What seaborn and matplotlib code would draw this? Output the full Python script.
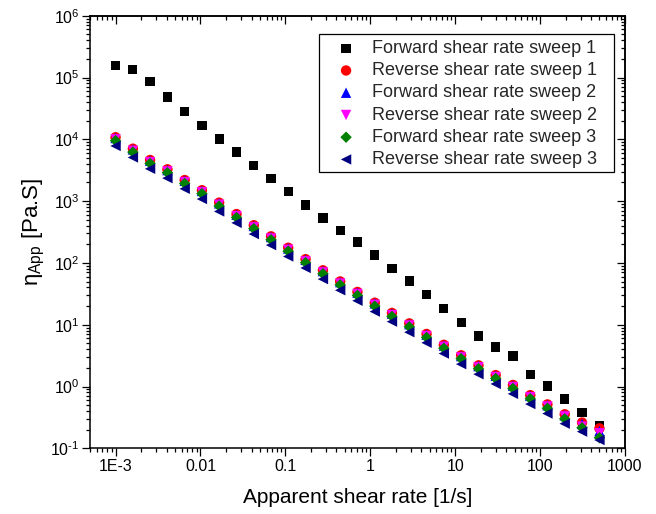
import numpy as np
import pandas as pd
import matplotlib
matplotlib.use("Agg")
import matplotlib.pyplot as plt
import matplotlib.patches as mpatches
import seaborn as sns
from matplotlib.ticker import (LogLocator, FixedLocator, FixedFormatter,
                               NullFormatter, FuncFormatter)

# Apparent shear rate [1/s] (same rates for every sweep)
shear_rate = [0.001, 0.0016, 0.00255, 0.00408, 0.00652, 0.0104, 0.0166, 0.0266,
              0.0425, 0.0678, 0.108, 0.173, 0.277, 0.442, 0.706, 1.13, 1.80,
              2.88, 4.60, 7.35, 11.75, 18.8, 30.0, 47.9, 76.6, 122, 195, 312, 500]

# Apparent viscosity [Pa.S] per sweep
fwd_1 = [155000, 136000, 85500, 48300, 28000, 16900, 10100, 6230, 3790, 2300,
         1420, 865, 533, 332, 218, 134, 82, 51, 30.5, 18.1, 10.8, 6.56, 4.35,
         3.12, 1.55, 1.02, 0.63, 0.377, 0.232]
rev_1 = [10800, 7050, 4620, 3270, 2190, 1500, 944, 617, 407, 269, 176, 115,
         75.9, 50.1, 33.9, 22.7, 15.5, 10.5, 7.08, 4.73, 3.20, 2.20, 1.53, 1.06,
         0.724, 0.513, 0.355, 0.261, 0.210]
fwd_2 = [10500, 6860, 4500, 3180, 2130, 1460, 918, 600, 396, 262, 171, 112,
         73.8, 48.8, 33.0, 22.1, 15.1, 10.2, 6.89, 4.60, 3.11, 2.14, 1.49, 1.03,
         0.704, 0.498, 0.342, 0.248, 0.190]
rev_2 = [9990, 6520, 4270, 3020, 2030, 1390, 873, 571, 376, 249, 163, 106,
         70.2, 46.3, 31.4, 21.0, 14.3, 9.71, 6.55, 4.38, 2.96, 2.04, 1.42, 0.98,
         0.670, 0.475, 0.328, 0.224, 0.175]
fwd_3 = [9500, 6200, 4070, 2880, 1930, 1320, 831, 543, 358, 237, 155, 101,
         66.8, 44.1, 29.8, 20.0, 13.6, 9.24, 6.23, 4.16, 2.82, 1.94, 1.35, 0.93,
         0.635, 0.445, 0.300, 0.215, 0.148]
rev_3 = [7800, 5080, 3330, 2350, 1580, 1080, 680, 444, 293, 194, 127, 82.8,
         54.6, 36.1, 24.4, 16.3, 11.2, 7.56, 5.10, 3.41, 2.30, 1.58, 1.10, 0.76,
         0.52, 0.365, 0.250, 0.186, 0.136]

series_names = ["Forward shear rate sweep 1", "Reverse shear rate sweep 1",
                "Forward shear rate sweep 2", "Reverse shear rate sweep 2",
                "Forward shear rate sweep 3", "Reverse shear rate sweep 3"]
series_values = [fwd_1, rev_1, fwd_2, rev_2, fwd_3, rev_3]
colors = ["#000000", "#FF0000", "#0000FF", "#FF00FF", "#008000", "#000080"]
markers = ["s", "o", "^", "v", "D", "<"]
sizes = [44, 56, 56, 56, 34, 56]

x_ticks = [1e-3, 1e-2, 1e-1, 1, 10, 100, 1000]
x_ticklabels = ["1E-3", "0.01", "0.1", "1", "10", "100", "1000"]

sns.set_theme(style="white")
plt.rcParams["font.family"] = ["Liberation Sans", "DejaVu Sans"]
plt.rcParams["mathtext.fontset"] = "custom"
plt.rcParams["mathtext.rm"] = "Liberation Sans"
plt.rcParams["mathtext.it"] = "Liberation Sans:italic"
plt.rcParams["mathtext.default"] = "regular"
plt.rcParams["axes.unicode_minus"] = False

fig = plt.figure(figsize=(6.56, 5.14), dpi=100)
ax = fig.add_axes([90 / 656, 1 - 448.3 / 514, 535 / 656, 432.6 / 514])

for name, vals, c, m, s in zip(series_names, series_values, colors, markers, sizes):
    df = pd.DataFrame({"rate": shear_rate, "eta": vals})
    sns.scatterplot(data=df, x="rate", y="eta", color=c, marker=m, s=s,
                    edgecolor="none", linewidth=0, label=name, ax=ax, zorder=3)

ax.set_xscale("log")
ax.set_yscale("log")
ax.set_xlim(5e-4, 1000)
ax.set_ylim(0.1, 1e6)


def pow10_label(v, pos):
    e = int(round(np.log10(v)))
    exp = r"\text{-}%d" % (-e) if e < 0 else "%d" % e
    return r"$\mathregular{10^{%s}}$" % exp


ax.xaxis.set_major_locator(FixedLocator(x_ticks))
ax.xaxis.set_major_formatter(FixedFormatter(x_ticklabels))
ax.xaxis.set_minor_locator(LogLocator(base=10, subs=np.arange(2, 10), numticks=20))
ax.xaxis.set_minor_formatter(NullFormatter())
ax.yaxis.set_major_locator(LogLocator(base=10, numticks=20))
ax.yaxis.set_major_formatter(FuncFormatter(pow10_label))
ax.yaxis.set_minor_locator(LogLocator(base=10, subs=np.arange(2, 10), numticks=20))
ax.yaxis.set_minor_formatter(NullFormatter())

for sp in ax.spines.values():
    sp.set_color("black")
    sp.set_linewidth(1.1)

ax.tick_params(which="both", direction="out", color="black", width=0.9,
               labelsize=11.5, labelcolor="black", bottom=True, left=True,
               top=False, right=False, pad=2)
ax.tick_params(which="major", length=5.5)
ax.tick_params(which="minor", length=3)

# Mirror ticks pointing inward on the top and right frame
top = ax.secondary_xaxis("top")
top.set_xscale("log")
top.xaxis.set_major_locator(FixedLocator(x_ticks))
top.xaxis.set_minor_locator(LogLocator(base=10, subs=np.arange(2, 10), numticks=20))
top.tick_params(which="both", direction="in", width=0.9, labeltop=False, color="black")
top.tick_params(which="major", length=5.5)
top.tick_params(which="minor", length=3)
right = ax.secondary_yaxis("right")
right.set_yscale("log")
right.yaxis.set_major_locator(LogLocator(base=10, numticks=20))
right.yaxis.set_minor_locator(LogLocator(base=10, subs=np.arange(2, 10), numticks=20))
right.tick_params(which="both", direction="in", width=0.9, labelright=False, color="black")
right.tick_params(which="major", length=5.5)
right.tick_params(which="minor", length=3)
for a in (top, right):
    for sp in a.spines.values():
        sp.set_linewidth(1.1)
        sp.set_color("black")

ax.set_xlabel("Apparent shear rate [1/s]", fontsize=15, color="black", labelpad=10)
ax.set_ylabel(r"η$_{App}$ [Pa.S]", fontsize=16, color="black", labelpad=2)

# Legend entries without their own frame; the box is drawn separately
leg = ax.legend(loc="upper left", bbox_to_anchor=(328 / 656, 1 - 40 / 514),
                bbox_transform=fig.transFigure, borderaxespad=0, borderpad=0,
                frameon=False, fontsize=13, labelspacing=0.29,
                handletextpad=0.44, handlelength=2.0, markerscale=1.0)
leg.set_zorder(6)
box = mpatches.Rectangle((319 / 656, 1 - 172 / 514), 295 / 656, 138 / 514,
                         transform=fig.transFigure, facecolor="white",
                         edgecolor="black", linewidth=0.9, zorder=5)
fig.add_artist(box)
fig.add_artist(leg)

fig.savefig("out.png", dpi=100, facecolor="white")
